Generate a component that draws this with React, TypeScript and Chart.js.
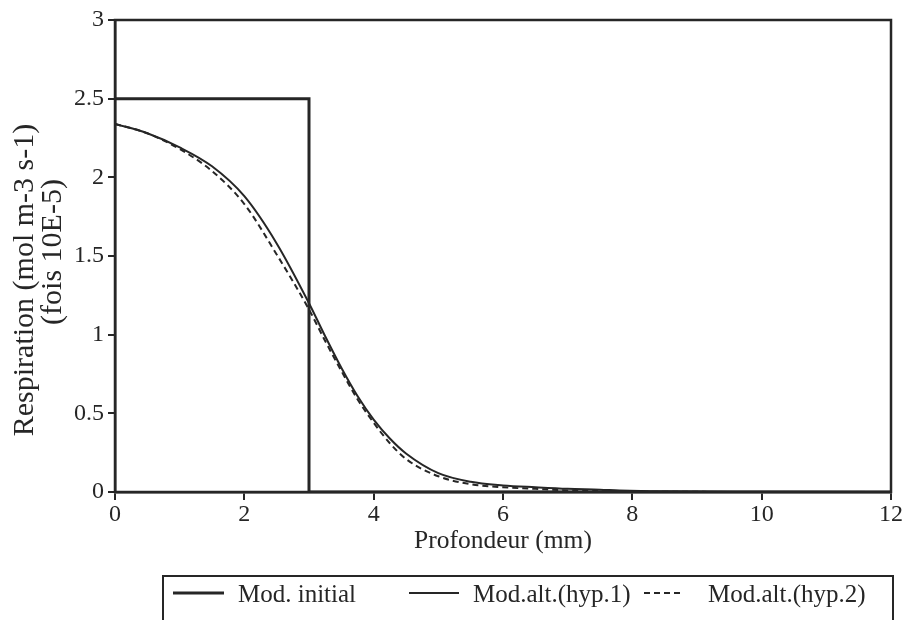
import React, { useEffect, useRef } from 'react';
import { Chart, registerables } from 'chart.js';

Chart.register(...registerables);

// ---- data ----
const depthInitial = [0, 3, 3, 12];
const respInitial = [2.5, 2.5, 0, 0];

const depthHyp1 = [0, 0.5, 1, 1.5, 2, 2.5, 3, 3.25, 3.5, 3.75, 4, 4.25, 4.5, 5, 5.5, 6, 6.5, 7, 7.5, 7.8, 8.5, 10, 12];
const respHyp1 = [2.34, 2.28, 2.19, 2.07, 1.88, 1.58, 1.2, 0.99, 0.79, 0.61, 0.46, 0.34, 0.245, 0.12, 0.065, 0.042, 0.03, 0.02, 0.015, 0.01, 0.004, 0.001, 0];

const depthHyp2 = [0, 0.5, 1, 1.5, 2, 2.5, 3, 3.25, 3.5, 3.75, 4, 4.25, 4.5, 5, 5.5, 6, 6.5, 7, 7.5, 8, 9, 10, 12];
const respHyp2 = [2.34, 2.28, 2.18, 2.04, 1.83, 1.51, 1.16, 0.96, 0.77, 0.59, 0.44, 0.31, 0.21, 0.1, 0.05, 0.03, 0.02, 0.01, 0.006, 0.003, 0.001, 0, 0];

const seriesLabels = ['Mod. initial', 'Mod.alt.(hyp.1)', 'Mod.alt.(hyp.2)'];
const xTitle = 'Profondeur (mm)';
const yTitleLines = ['Respiration (mol m-3 s-1)', '(fois 10E-5)'];

const INK = '#262626';
const FONT = '"Liberation Serif", "Times New Roman", serif';

const toPoints = (xs: number[], ys: number[]) => xs.map((x, i) => ({ x, y: ys[i] }));

const framePlugin = {
  id: 'frameAndText',
  afterDraw(chart: any) {
    const { ctx, chartArea: a } = chart;
    ctx.save();
    ctx.strokeStyle = INK;
    ctx.lineWidth = 2.5;
    ctx.strokeRect(a.left, a.top, a.right - a.left, a.bottom - a.top);

    ctx.fillStyle = INK;
    ctx.font = `25.5px ${FONT}`;
    ctx.textAlign = 'center';
    ctx.textBaseline = 'middle';
    ctx.fillText(xTitle, (a.left + a.right) / 2, a.bottom + 49);

    ctx.font = `30px ${FONT}`;
    ctx.save();
    ctx.translate(25, a.top + 260);
    ctx.rotate(-Math.PI / 2);
    ctx.fillText(yTitleLines[0], 0, 0);
    ctx.fillText(yTitleLines[1], 28, 28);
    ctx.restore();

    // legend box
    ctx.font = `25px ${FONT}`;
    const boxLeft = 163;
    const boxTop = a.bottom + 84;
    ctx.lineWidth = 2;
    ctx.strokeRect(boxLeft, boxTop, 893 - boxLeft, 100);
    const itemStarts = [173, 409, 644];
    const sampleWidths = [51, 50, 36];
    const textStarts = [238, 473, 708];
    const lineY = boxTop + 17;
    chart.data.datasets.forEach((ds: any, i: number) => {
      const x0 = itemStarts[i];
      ctx.save();
      ctx.lineWidth = ds.borderWidth;
      ctx.strokeStyle = ds.borderColor;
      ctx.setLineDash(ds.borderDash || []);
      ctx.beginPath();
      ctx.moveTo(x0, lineY);
      ctx.lineTo(x0 + sampleWidths[i], lineY);
      ctx.stroke();
      ctx.restore();
      ctx.textAlign = 'left';
      ctx.fillText(ds.label, textStarts[i], lineY + 2);
    });
    ctx.restore();
  },
};

export default function App() {
  const ref = useRef<HTMLCanvasElement | null>(null);

  useEffect(() => {
    if (!ref.current) return;
    const chart = new Chart(ref.current, {
      type: 'line',
      data: {
        datasets: [
          {
            label: seriesLabels[0],
            data: toPoints(depthInitial, respInitial),
            borderColor: INK,
            borderWidth: 3,
            pointRadius: 0,
            tension: 0,
            fill: false,
          },
          {
            label: seriesLabels[1],
            data: toPoints(depthHyp1, respHyp1),
            borderColor: INK,
            borderWidth: 2,
            pointRadius: 0,
            cubicInterpolationMode: 'monotone',
            fill: false,
          },
          {
            label: seriesLabels[2],
            data: toPoints(depthHyp2, respHyp2),
            borderColor: INK,
            borderWidth: 2,
            borderDash: [6, 4],
            pointRadius: 0,
            cubicInterpolationMode: 'monotone',
            fill: false,
          },
        ] as any,
      },
      options: {
        animation: false,
        responsive: false,
        layout: { padding: { left: 0, top: 20, right: 15, bottom: 0 } },
        plugins: { legend: { display: false }, tooltip: { enabled: false } },
        scales: {
          x: {
            type: 'linear',
            min: 0,
            max: 12,
            afterFit: (s: any) => { s.height = 128; },
            ticks: {
              stepSize: 2,
              color: INK,
              font: { family: FONT, size: 24 },
              padding: 0,
              maxRotation: 0,
              callback: (v: any) => String(v),
            },
            grid: { display: true, drawOnChartArea: false, drawTicks: true, tickLength: 8, color: INK, lineWidth: 2 },
            border: { color: INK, width: 2.5 },
          },
          y: {
            type: 'linear',
            min: 0,
            max: 3,
            afterFit: (s: any) => { s.width = 115; },
            ticks: {
              stepSize: 0.5,
              color: INK,
              font: { family: FONT, size: 24 },
              padding: 4,
              callback: (v: any) => String(Number(v)),
            },
            grid: { display: true, drawOnChartArea: false, drawTicks: true, tickLength: 7, color: INK, lineWidth: 2 },
            border: { color: INK, width: 2.5 },
          },
        },
      },
      plugins: [framePlugin],
    });
    return () => chart.destroy();
  }, []);

  return (
    <div style={{ position: 'absolute', left: 0, top: 0, width: 906, height: 620, background: '#fff' }}>
      <canvas ref={ref} width={906} height={620} />
    </div>
  );
}
